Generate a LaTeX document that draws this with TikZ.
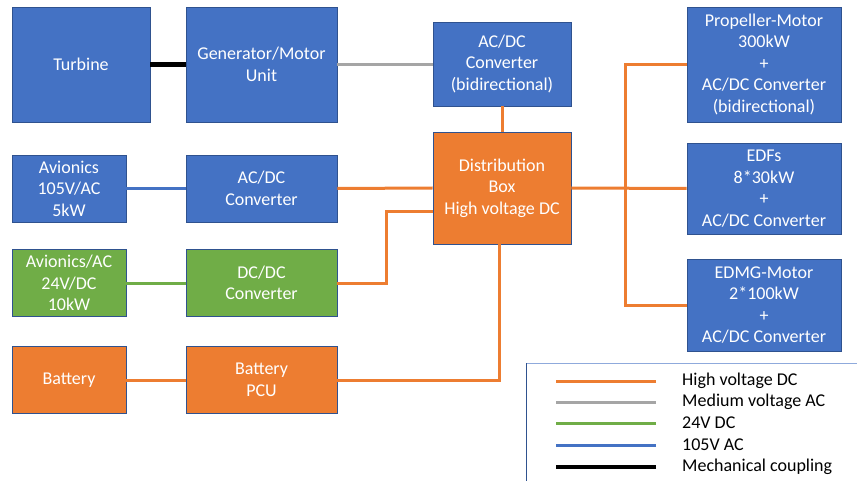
\documentclass[tikz,border=0pt]{standalone}
\usepackage{fontspec}
\setmainfont{Carlito}
\usepackage{tikz}
\usetikzlibrary{positioning,calc}
\definecolor{boxblue}{HTML}{4472C4}
\definecolor{boxline}{HTML}{2F528F}
\definecolor{boxgreen}{HTML}{70AD47}
\definecolor{boxorange}{HTML}{ED7D31}
\definecolor{linegray}{HTML}{A5A5A5}
\definecolor{legframe}{HTML}{8FAADC}
\tikzset{
  unit/.style={draw=boxline,fill=boxblue,text=white,align=center,font=\fontsize{18}{21.5}\selectfont,inner sep=2pt,line width=0.8pt},
  gunit/.style={unit,fill=boxgreen},
  ounit/.style={unit,fill=boxorange},
  hvdc/.style={color=boxorange,line width=3pt},
  mvac/.style={color=linegray,line width=3pt},
  lvdc/.style={color=boxgreen,line width=3pt},
  lvac/.style={color=boxblue,line width=3pt},
  mech/.style={color=black,line width=4.5pt},
}

\begin{document}
\begin{tikzpicture}[x=1pt,y=-1pt, big/.style={minimum width=151pt,minimum height=67pt}, small/.style={minimum width=114pt,minimum height=67pt}, rbox/.style={unit,minimum width=154pt}]
  \useasboundingbox (0,0) rectangle (857,481);
  % power source chain
  \node[unit,minimum width=138pt,minimum height=115pt] (turb) at (81,64.5) {Turbine};
  \node[unit,minimum width=151pt,minimum height=115pt] (gen) at (261.5,64.5) {Generator/Motor\\Unit};
  \node[unit,minimum width=138pt,minimum height=84pt] (acdc) at (502,64) {AC/DC\\Converter\\(bidirectional)};
  \node[ounit,minimum width=138pt,minimum height=112pt] (dist) at (502,188) {Distribution\\Box\\High voltage DC};
  % consumers on the left
  \node[unit,small] (avac) at (69,188.5) {Avionics\\105V/AC\\5kW};
  \node[unit,big] (conv) at (261.5,188.5) {AC/DC\\Converter};
  \node[gunit,small] (avdc) at (69,283) {Avionics/AC\\24V/DC\\10kW};
  \node[gunit,big] (dcdc) at (261.5,283) {DC/DC\\Converter};
  \node[ounit,small] (batt) at (69,380) {Battery};
  \node[ounit,big] (pcu) at (261.5,380) {Battery\\PCU};
  % propulsion on the right
  \node[rbox,minimum height=115pt] (prop) at (764,64.5) {Propeller-Motor\\300kW\\+\\AC/DC Converter\\(bidirectional)};
  \node[rbox,minimum height=91pt] (edf) at (764,188.5) {EDFs\\8*30kW\\+\\AC/DC Converter};
  \node[rbox,minimum height=92pt] (edmg) at (764,305) {EDMG-Motor\\2*100kW\\+\\AC/DC Converter};
  % connections
  \draw[mech] (turb.east) -- (gen.west);
  \draw[mvac] (gen.east) -- (gen.east -| acdc.west);
  \draw[lvac] (avac.east) -- (conv.west);
  \draw[lvdc] (avdc.east) -- (dcdc.west);
  \foreach \a/\b in {acdc.south/dist.north,conv.east/dist.west,batt.east/pcu.west,dist.east/edf.west} \draw[hvdc] (\a) -- (\b);
  \draw[hvdc] (dcdc.east) -- ++(49,0) |- ([yshift=-24pt]dist.west);
  \draw[hvdc] (pcu.east) -| ([xshift=-3pt]dist.south);
  \draw[hvdc] (prop.west) -- ++(-61,0) |- (edmg.west);
  % legend
  \draw[legframe,line width=1pt] (526,363) -- (857,363);
  \draw[boxline,line width=1pt] (526,363) -- (526,481);
  \foreach \y/\s/\t [count=\i] in {381/hvdc/High voltage DC,402/mvac/Medium voltage AC,423/lvdc/24V DC,445/lvac/105V AC,467/mech/Mechanical coupling} {
    \node[anchor=west,inner sep=0pt,font=\fontsize{18}{21.5}\selectfont] (leg\i) at (682,\y) {\t};
    \draw[\s] ([xshift=-26pt]leg\i.west) -- ++(-100,0);
  }
\end{tikzpicture}
\end{document}
